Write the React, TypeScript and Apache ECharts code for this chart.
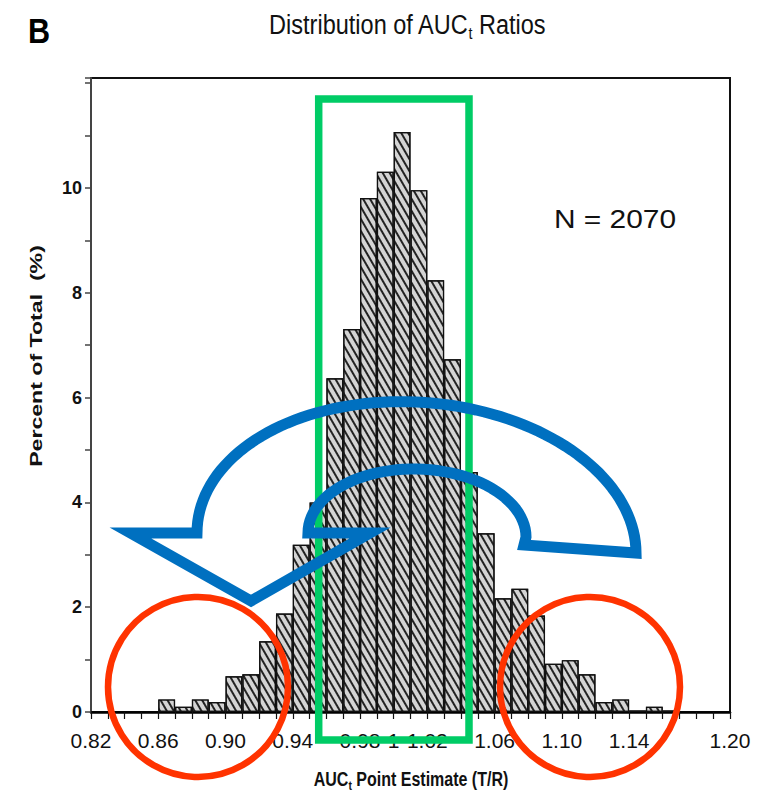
import React, { useEffect, useRef } from "react";
import * as echarts from "echarts";

// ---- data ----
const binStarts = [
  0.86, 0.87, 0.88, 0.89, 0.9, 0.91, 0.92, 0.93, 0.94, 0.95, 0.96, 0.97, 0.98, 0.99,
  1.0, 1.01, 1.02, 1.03, 1.04, 1.05, 1.06, 1.07, 1.08, 1.09, 1.1, 1.11, 1.12, 1.13,
  1.14, 1.15, 1.16,
];
const percentOfTotal = [
  0.24, 0.1, 0.24, 0.19, 0.68, 0.72, 1.35, 1.88, 3.19, 4.0, 6.37, 7.31, 9.81, 10.31,
  11.07, 9.96, 8.24, 6.73, 4.58, 3.41, 2.17, 2.35, 1.84, 0.92, 0.99, 0.72, 0.19, 0.24,
  0.03, 0.1, 0.03,
];
const xTickValues = [0.82, 0.86, 0.9, 0.94, 0.98, 1.0, 1.02, 1.06, 1.1, 1.14, 1.2];
const xTickLabels = ["0.82", "0.86", "0.90", "0.94", "0.98", "1", "1.02", "1.06", "1.10", "1.14", "1.20"];
const yTickLabels = [0, 2, 4, 6, 8, 10];
const sampleSize = 2070;
const xMin = 0.82;
const xMax = 1.2;
const binWidth = 0.01;
const yMax = 12.1;

const FONT = "'Liberation Sans', Arial, Helvetica, sans-serif";

function ellipsePts(cx: number, cy: number, rx: number, ry: number, tilt: number, t0: number, t1: number, n: number) {
  const pts: number[][] = [];
  for (let i = 0; i <= n; i++) {
    const t = t0 + ((t1 - t0) * i) / n;
    pts.push([cx + rx * Math.cos(t), cy - ry * Math.sin(t) + tilt * Math.cos(t)]);
  }
  return pts;
}

export default function App() {
  const ref = useRef<HTMLDivElement>(null);

  useEffect(() => {
    if (!ref.current) return;
    const chart = echarts.init(ref.current, null, { renderer: "svg" });

    const nBins = Math.round((xMax - xMin) / binWidth);
    const categories: string[] = [];
    const barData: (number | null)[] = [];
    for (let i = 0; i < nBins; i++) {
      const start = +(xMin + i * binWidth).toFixed(2);
      categories.push(start.toFixed(2));
      const idx = binStarts.findIndex((b) => Math.abs(b - start) < 1e-9);
      barData.push(idx >= 0 ? percentOfTotal[idx] : null);
    }

    const arrowPts = [
      ...ellipsePts(416.5, 543, 219.5, 141, 10, 0, Math.PI, 80),
      [130.5, 533],
      [251, 601],
      [370, 533],
      ...ellipsePts(417, 535, 109, 66, 2, Math.PI, 0, 50),
      [524, 545],
    ];

    chart.setOption({
      animation: false,
      backgroundColor: "#ffffff",
      grid: {
        left: 91,
        right: 31,
        top: 78,
        bottom: 83,
        show: true,
        borderColor: "#111",
        borderWidth: 2,
        containLabel: false,
      },
      xAxis: [
        {
          type: "category",
          data: categories,
          show: false,
          boundaryGap: true,
        },
        {
          type: "value",
          min: xMin,
          max: xMax,
          interval: binWidth,
          position: "bottom",
          axisLine: { show: true, onZero: false, lineStyle: { color: "#000", width: 2.5 } },
          axisTick: { show: true, length: 7, lineStyle: { color: "#111", width: 1.2 } },
          axisLabel: {
            fontSize: 21,
            color: "#111",
            fontFamily: FONT,
            margin: 18,
            showMinLabel: true,
            showMaxLabel: true,
            formatter: (v: number) => {
              const i = xTickValues.findIndex((t) => Math.abs(t - v) < 1e-6);
              return i >= 0 ? xTickLabels[i] : "";
            },
          },
          splitLine: { show: false },
        },
      ],
      yAxis: {
        type: "value",
        min: 0,
        max: yMax,
        interval: 1,
        axisLine: { show: true, lineStyle: { color: "#444", width: 2 } },
        axisTick: { show: true, length: 6, lineStyle: { color: "#444", width: 1.5 } },
        axisLabel: {
          fontSize: 18,
          fontWeight: "bold",
          color: "#111",
          fontFamily: FONT,
          margin: 9,
          formatter: (v: number) => {
            const i = yTickLabels.findIndex((t) => Math.abs(t - v) < 1e-6);
            return i >= 0 ? String(yTickLabels[i]) : "";
          },
        },
        splitLine: { show: false },
      },
      series: [
        {
          type: "bar",
          xAxisIndex: 0,
          yAxisIndex: 0,
          data: barData,
          barCategoryGap: "0%",
          barGap: "0%",
          silent: true,
          itemStyle: {
            color: "#d4d4d4",
            borderColor: "#111",
            borderWidth: 1.2,
            decal: {
              symbol: "rect",
              symbolSize: 1,
              dashArrayX: [1, 0],
              dashArrayY: [2, 4],
              rotation: Math.PI / 3,
              color: "rgba(15,15,15,0.9)",
            },
          },
        },
      ],
      graphic: [
        {
          type: "text",
          x: 39,
          y: 31,
          scaleX: 0.85,
          z: 100,
          style: {
            text: "B",
            fontSize: 36,
            fontWeight: "bold",
            fontFamily: FONT,
            fill: "#000",
            align: "center",
            verticalAlign: "middle",
          },
        },
        {
          type: "text",
          x: 407,
          y: 10,
          scaleX: 0.84,
          z: 100,
          style: {
            text: "{a|Distribution of AUC}{s|t}{a| Ratios}",
            align: "center",
            verticalAlign: "top",
            fill: "#111",
            rich: {
              a: { fontSize: 28, lineHeight: 30, fontFamily: FONT, verticalAlign: "top", fill: "#111" },
              s: { fontSize: 17, lineHeight: 30, fontFamily: FONT, verticalAlign: "top", padding: [15, 0, 0, 0], fill: "#111" },
            },
          },
        },
        {
          type: "text",
          x: 615,
          y: 219,
          scaleX: 1.15,
          z: 100,
          style: {
            text: "N = " + sampleSize,
            fontSize: 26,
            fontFamily: FONT,
            fill: "#111",
            align: "center",
            verticalAlign: "middle",
          },
        },
        {
          type: "text",
          x: 36,
          y: 356,
          rotation: Math.PI / 2,
          scaleX: 1.36,
          z: 100,
          style: {
            text: "Percent of Total  (%)",
            fontSize: 17,
            fontWeight: "bold",
            fontFamily: FONT,
            fill: "#111",
            align: "center",
            verticalAlign: "middle",
          },
        },
        {
          type: "text",
          x: 411,
          y: 769,
          scaleX: 0.8,
          z: 100,
          style: {
            text: "{a|AUC}{s|t}{a| Point Estimate (T/R)}",
            align: "center",
            verticalAlign: "top",
            fill: "#111",
            rich: {
              a: { fontSize: 20, lineHeight: 21, fontWeight: "bold", fontFamily: FONT, verticalAlign: "top", fill: "#111" },
              s: { fontSize: 13, lineHeight: 21, fontWeight: "bold", fontFamily: FONT, verticalAlign: "top", padding: [10, 0, 0, 0], fill: "#111" },
            },
          },
        },
        {
          type: "rect",
          z: 110,
          shape: { x: 318.7, y: 99, width: 150.3, height: 641 },
          style: { fill: "transparent", stroke: "#00cc66", lineWidth: 7.5 },
        },
        {
          type: "circle",
          z: 120,
          shape: { cx: 198, cy: 687, r: 90 },
          style: { fill: "transparent", stroke: "#ff3300", lineWidth: 6.5 },
        },
        {
          type: "circle",
          z: 120,
          shape: { cx: 590, cy: 687, r: 90 },
          style: { fill: "transparent", stroke: "#ff3300", lineWidth: 6.5 },
        },
        {
          type: "polygon",
          z: 130,
          shape: { points: arrowPts },
          style: { fill: "transparent", stroke: "#0070c0", lineWidth: 11, lineJoin: "miter" },
        },
      ],
    });

    return () => chart.dispose();
  }, []);

  return (
    <div
      ref={ref}
      style={{ position: "absolute", left: 0, top: 0, width: 761, height: 795 }}
    />
  );
}
